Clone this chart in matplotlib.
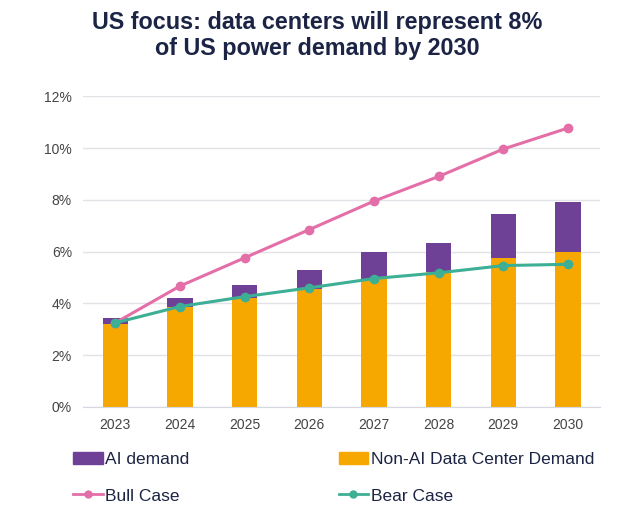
import matplotlib
matplotlib.use("Agg")
import matplotlib.pyplot as plt
from matplotlib.ticker import FuncFormatter
from matplotlib.patches import Patch
from matplotlib.lines import Line2D

plt.rcParams['font.family'] = ['Liberation Sans', 'DejaVu Sans']

years = ["2023", "2024", "2025", "2026", "2027", "2028", "2029", "2030"]
non_ai = [3.22, 3.86, 4.19, 4.56, 4.96, 5.20, 5.76, 6.00]
ai_total = [3.43, 4.19, 4.70, 5.29, 6.00, 6.33, 7.46, 7.91]
ai = [t - n for t, n in zip(ai_total, non_ai)]
bull = [3.25, 4.67, 5.76, 6.85, 7.95, 8.90, 9.96, 10.77]
bear = [3.25, 3.88, 4.26, 4.60, 4.96, 5.18, 5.46, 5.51]

c_purple = "#6E4096"
c_orange = "#F7A800"
c_pink = "#E46FA8"
c_teal = "#3DAF95"
c_text = "#1B2444"

fig = plt.figure(figsize=(6.24, 5.09), dpi=100)
ax = fig.add_axes([0.133, 0.2004, 0.829, 0.6106])

x = list(range(len(years)))
w = 0.39
ax.bar(x, non_ai, width=w, color=c_orange, zorder=2)
ax.bar(x, ai, width=w, bottom=non_ai, color=c_purple, zorder=2)
ax.plot(x, bull, color=c_pink, lw=2.2, marker="o", ms=6, zorder=3)
ax.plot(x, bear, color=c_teal, lw=2.2, marker="o", ms=6, zorder=4)

ax.set_xlim(-0.5, 7.5)
ax.set_ylim(0, 12)
ax.set_yticks([0, 2, 4, 6, 8, 10, 12])
ax.yaxis.set_major_formatter(FuncFormatter(lambda v, p: f"{v:.0f}%"))
ax.set_xticks(x)
ax.set_xticklabels(years)
ax.grid(axis="y", color="#E2E3E8", lw=1, zorder=0)
ax.set_axisbelow(True)
for s in ["top", "right", "left"]:
    ax.spines[s].set_visible(False)
ax.spines["bottom"].set_color("#D5D8E2")
ax.tick_params(axis="both", length=0, labelsize=10, colors="#444444", pad=8)

fig.text(0.509, 0.979, "US focus: data centers will represent 8%\nof US power demand by 2030",
         ha="center", va="top", fontsize=16.8, fontweight="bold", color=c_text,
         linespacing=1.2)

handles = [
    Patch(color=c_purple, label="AI demand"),
    Line2D([0], [0], color=c_pink, lw=2, marker="o", ms=5, label="Bull Case"),
    Patch(color=c_orange, label="Non-AI Data Center Demand"),
    Line2D([0], [0], color=c_teal, lw=2, marker="o", ms=5, label="Bear Case"),
]
leg = fig.legend(handles=handles, ncol=2, loc="lower left", bbox_to_anchor=(0.092, -0.02),
                 frameon=False, fontsize=12.5, columnspacing=8.6, handlelength=1.7,
                 handletextpad=0.15, labelspacing=1.22)
for t in leg.get_texts():
    t.set_color(c_text)

fig.savefig("out.png", dpi=100)
